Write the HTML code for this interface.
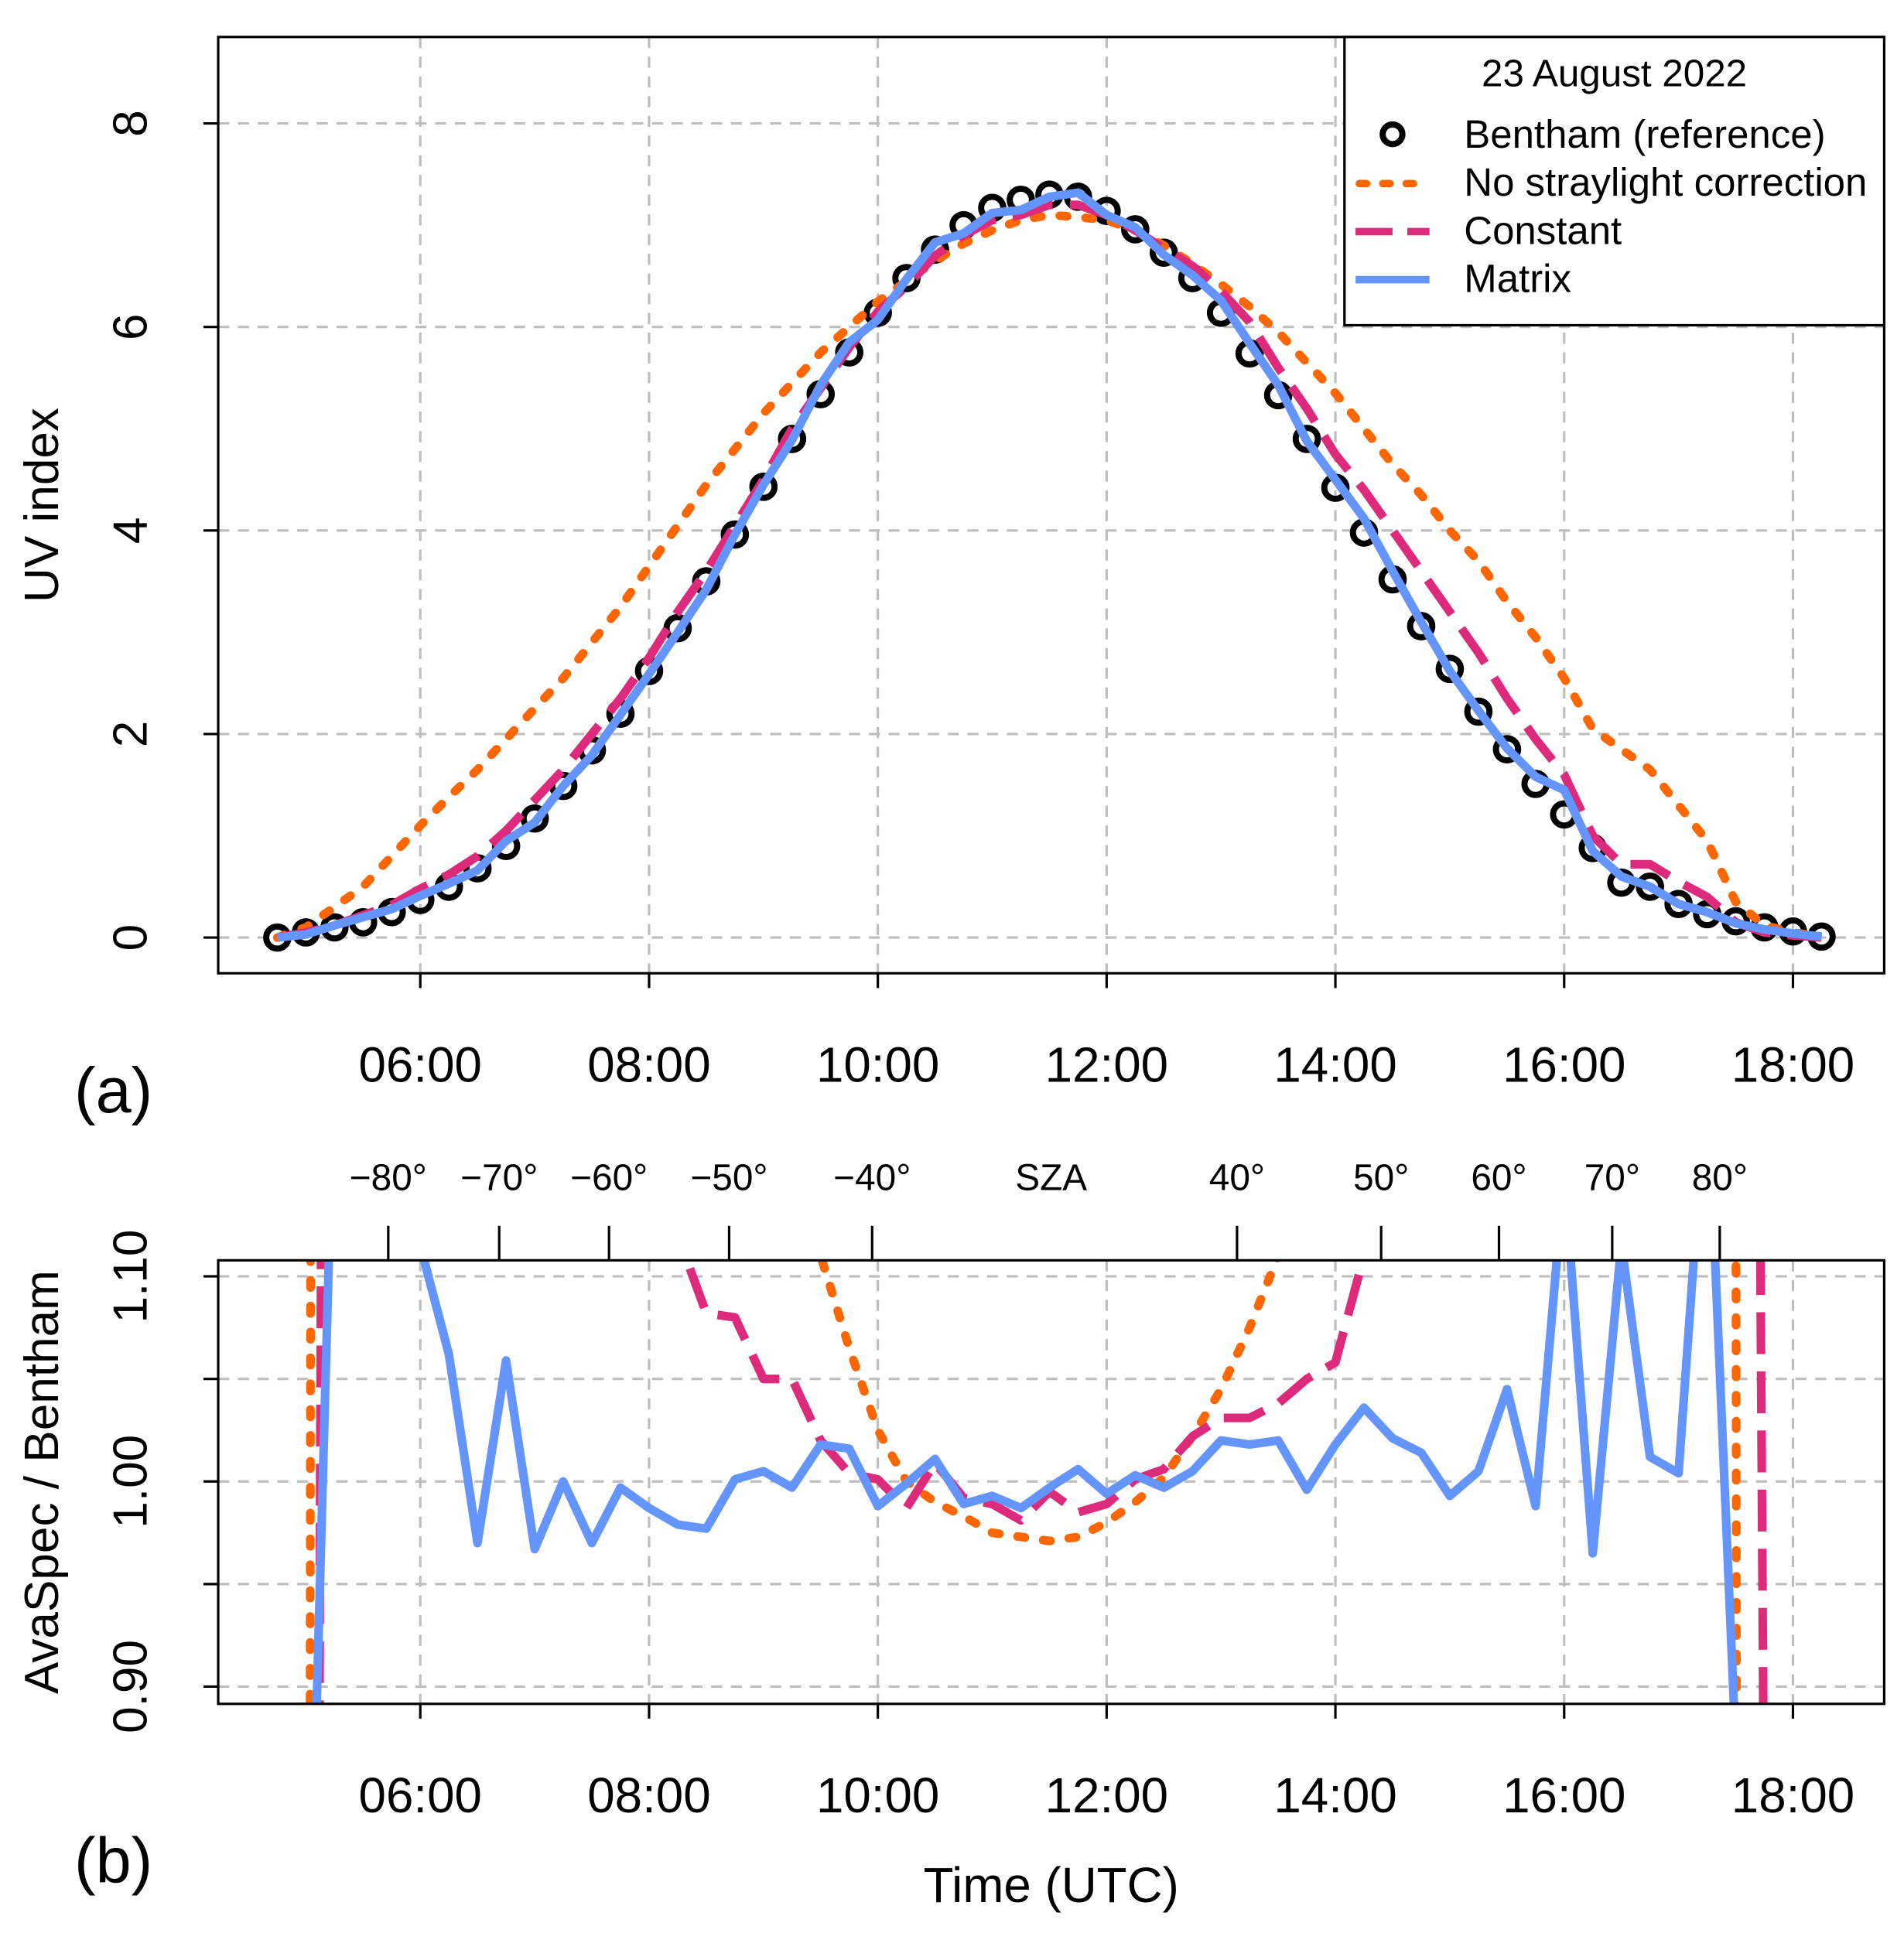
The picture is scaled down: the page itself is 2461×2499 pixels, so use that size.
<!DOCTYPE html>
<html><head><meta charset="utf-8"><style>
html,body{margin:0;padding:0;background:#fff;overflow:hidden;width:2461px;height:2499px}
svg{display:block}
text{font-family:"Liberation Sans",sans-serif;fill:#000}
</style></head><body>
<svg id="chart" width="2461" height="2499" viewBox="0 0 1545 1569" xmlns="http://www.w3.org/2000/svg">
<defs>
<clipPath id="clipA"><rect x="177" y="30" width="1352" height="760"/></clipPath>
<clipPath id="clipB"><rect x="177" y="1023" width="1352" height="360"/></clipPath>
</defs>
<g id="gridA"></g>
<g id="gridB"></g>
<g id="seriesA" clip-path="url(#clipA)"></g>
<g id="seriesB" clip-path="url(#clipB)"></g>
<rect x="177" y="30" width="1352" height="760" fill="none" stroke="#000" stroke-width="2"/>
<rect x="177" y="1023" width="1352" height="360" fill="none" stroke="#000" stroke-width="2"/>
<g id="axes"></g>
<text transform="translate(47,410) rotate(-90)" text-anchor="middle" font-size="39">UV index</text>
<text transform="translate(47,1203) rotate(-90)" text-anchor="middle" font-size="39">AvaSpec / Bentham</text>
<text x="92" y="903" text-anchor="middle" font-size="52">(a)</text>
<text x="92" y="1528" text-anchor="middle" font-size="52">(b)</text>
<text x="853" y="1544" text-anchor="middle" font-size="40">Time (UTC)</text>
<text x="853" y="966" text-anchor="middle" font-size="30">SZA</text>
<g>
<rect x="1091" y="30" width="438" height="234" fill="#fff" stroke="#000" stroke-width="2"/>
<text x="1310" y="70" text-anchor="middle" font-size="31">23 August 2022</text>
<circle cx="1130" cy="109" r="8" fill="none" stroke="#000" stroke-width="5"/>
<text x="1188" y="120" font-size="32">Bentham (reference)</text>
<line x1="1103" y1="149" x2="1160" y2="149" stroke="#ff6600" stroke-width="6" stroke-dasharray="6,13" stroke-linecap="round"/>
<text x="1188" y="159" font-size="32">No straylight correction</text>
<line x1="1100" y1="188" x2="1160" y2="188" stroke="#dd2a7b" stroke-width="6" stroke-dasharray="30,12"/>
<text x="1188" y="198" font-size="32">Constant</text>
<line x1="1100" y1="227" x2="1160" y2="227" stroke="#6495ff" stroke-width="6"/>
<text x="1188" y="237" font-size="32">Matrix</text>
</g>
</svg>
<script>
const times = [4.75,5,5.25,5.5,5.75,6,6.25,6.5,6.75,7,7.25,7.5,7.75,8,8.25,8.5,8.75,9,9.25,9.5,9.75,10,10.25,10.5,10.75,11,11.25,11.5,11.75,12,12.25,12.5,12.75,13,13.25,13.5,13.75,14,14.25,14.5,14.75,15,15.25,15.5,15.75,16,16.25,16.5,16.75,17,17.25,17.5,17.75,18,18.25];
const bentham = [0,0.05,0.1,0.15,0.25,0.37,0.5,0.68,0.9,1.17,1.49,1.84,2.2,2.62,3.04,3.5,3.96,4.43,4.9,5.34,5.75,6.14,6.48,6.76,7.0,7.17,7.25,7.3,7.28,7.14,6.96,6.73,6.48,6.14,5.74,5.33,4.9,4.42,3.98,3.52,3.06,2.64,2.22,1.85,1.51,1.21,0.88,0.54,0.5,0.33,0.23,0.16,0.1,0.06,0.01];
const noStray = [0,0.1,0.3,0.5,0.8,1.1,1.38,1.65,1.95,2.25,2.55,2.9,3.25,3.65,4.05,4.45,4.8,5.15,5.45,5.75,6.0,6.25,6.45,6.65,6.82,6.95,7.05,7.1,7.08,7.05,6.95,6.8,6.62,6.42,6.2,5.95,5.65,5.35,5.0,4.65,4.35,4.0,3.7,3.3,2.95,2.55,2.05,1.85,1.65,1.3,0.95,0.35,0.12,0.05,0.01];
const constant = [0,0.05,0.12,0.22,0.32,0.48,0.62,0.8,1.05,1.35,1.65,2.0,2.35,2.75,3.2,3.6,4.05,4.5,5.0,5.4,5.8,6.15,6.4,6.7,6.9,7.05,7.1,7.2,7.2,7.1,6.95,6.77,6.6,6.35,6.05,5.6,5.2,4.75,4.4,4.0,3.6,3.2,2.8,2.35,1.95,1.6,1.0,0.72,0.72,0.55,0.4,0.15,0.05,0.02,0];
const matrix = [0,0.03,0.12,0.2,0.28,0.41,0.53,0.66,0.95,1.13,1.49,1.79,2.19,2.59,3.0,3.42,3.96,4.45,4.89,5.43,5.85,6.07,6.47,6.83,6.92,7.12,7.15,7.28,7.32,7.1,6.98,6.71,6.51,6.26,5.84,5.43,4.88,4.5,4.12,3.6,3.1,2.62,2.23,1.86,1.58,1.45,0.85,0.6,0.5,0.33,0.25,0.14,0.08,0.04,0.01];
const ratioNoStray = [0.5,-1,12,1.4,1.4,1.4,1.4,1.4,1.4,1.4,1.4,1.4,1.4,1.4,1.4,1.4,1.3,1.25,1.18,1.11,1.065,1.025,1.0,0.99,0.983,0.975,0.973,0.971,0.973,0.98,0.99,1.002,1.022,1.045,1.075,1.11,1.3,1.4,1.4,1.4,1.4,1.4,1.4,1.4,1.4,1.4,1.4,1.4,1.4,1.4,1.3,1.2,-10,null,null];
const ratioConstant = [0.5,-1,3,1.4,1.4,1.4,1.4,1.4,1.4,1.4,1.4,1.4,1.4,1.3,1.12,1.082,1.08,1.05,1.05,1.02,1.004,1.001,0.987,1.009,0.992,0.989,0.981,0.995,0.985,0.989,1.001,1.006,1.022,1.031,1.031,1.038,1.05,1.058,1.11,1.3,1.4,1.4,1.4,1.4,1.4,1.4,1.4,1.4,1.4,1.4,1.4,3,0.8,null,null];
const ratioMatrix = [0.5,0.7,1.21,1.3,1.25,1.115,1.062,0.970,1.059,0.967,1.0,0.970,0.997,0.987,0.979,0.977,1.001,1.005,0.997,1.018,1.016,0.988,0.999,1.011,0.989,0.993,0.987,0.997,1.006,0.994,1.003,0.997,1.005,1.020,1.018,1.020,0.996,1.018,1.036,1.021,1.014,0.993,1.005,1.045,0.988,1.15,0.965,1.116,1.012,1.004,1.2,0.87,null,null,null];
const xTicks = [6,8,10,12,14,16,18];
const xTickLabels = ["06:00","08:00","10:00","12:00","14:00","16:00","18:00"];
const yTicksA = [0,2,4,6,8];
const yTicksB = [0.90,0.95,1.00,1.05,1.10];
const yTickLabelsB = ["0.90","","1.00","","1.10"];
const szaTimes = [5.72,6.69,7.65,8.70,9.95,13.14,14.40,15.43,16.42,17.36];
const szaLabels = ["\u221280\u00b0","\u221270\u00b0","\u221260\u00b0","\u221250\u00b0","\u221240\u00b0","40\u00b0","50\u00b0","60\u00b0","70\u00b0","80\u00b0"];

const NS='http://www.w3.org/2000/svg';
const X = h => 341 + (h-6)*92.83;
const YA = v => 761 - v*82.6;
const YB = v => 1036 + (1.10-v)*1665;
function mk(tag, attrs, parent){const e=document.createElementNS(NS,tag);for(const k in attrs)e.setAttribute(k,attrs[k]);parent.appendChild(e);return e;}
const gA=document.getElementById('gridA'),gB=document.getElementById('gridB'),sA=document.getElementById('seriesA'),sB=document.getElementById('seriesB'),ax=document.getElementById('axes');
const gs={stroke:'#bebebe','stroke-width':2,'stroke-dasharray':'9,7'};
xTicks.forEach((t,i)=>{
  let l=mk('line',Object.assign({x1:X(t),x2:X(t),y1:30,y2:790},gs),gA);
  
  
  l=mk('line',Object.assign({x1:X(t),x2:X(t),y1:1023,y2:1383},gs),gB);
  
  
  [[790,865],[1383,1458]].forEach(([y0,ty])=>{
    let tk=mk('line',{x1:X(t),x2:X(t),y1:y0,y2:y0+12,stroke:'#000','stroke-width':2},ax);
    
    
    let tx=mk('text',{x:X(t),y:ty+13,'text-anchor':'middle','font-size':40},ax);
    tx.textContent=xTickLabels[i];
    
    
  });
});
yTicksA.forEach(v=>{
  let l=mk('line',Object.assign({x1:177,x2:1529,y1:YA(v),y2:YA(v)},gs),gA);
  
  
  let tk=mk('line',{x1:165,x2:177,y1:YA(v),y2:YA(v),stroke:'#000','stroke-width':2},ax);
  
  
  let tx=mk('text',{transform:`translate(119,${YA(v)}) rotate(-90)`,'text-anchor':'middle','font-size':39},ax);
  tx.textContent=String(v);
  
  
});
yTicksB.forEach((v,i)=>{
  let l=mk('line',Object.assign({x1:177,x2:1529,y1:YB(v),y2:YB(v)},gs),gB);
  
  
  let tk=mk('line',{x1:165,x2:177,y1:YB(v),y2:YB(v),stroke:'#000','stroke-width':2},ax);
  
  
  if(yTickLabelsB[i]){
    let tx=mk('text',{transform:`translate(119,${YB(v)}) rotate(-90)`,'text-anchor':'middle','font-size':39},ax);
    tx.textContent=yTickLabelsB[i];
    
    
  }
});
szaTimes.forEach((t,i)=>{
  let tk=mk('line',{x1:X(t),x2:X(t),y1:995,y2:1023,stroke:'#000','stroke-width':2},ax);
  
  
  let tx=mk('text',{x:X(t),y:966,'text-anchor':'middle','font-size':30},ax);
  tx.textContent=szaLabels[i];
  
  
});
function path(vals,Y,style,parent,name){
  let d='',pen=false;
  vals.forEach((v,i)=>{ if(v===null){pen=false;return;} d+=(pen?'L':'M')+X(times[i]).toFixed(1)+','+Y(v).toFixed(1); pen=true; });
  const p=mk('path',Object.assign({d:d,fill:'none','stroke-linejoin':'round'},style),parent);
  
  
}
const stNo={stroke:'#ff6600','stroke-width':7,'stroke-dasharray':'6,15','stroke-linecap':'round'};
const stCo={stroke:'#dd2a7b','stroke-width':7,'stroke-dasharray':'34,14'};
const stMa={stroke:'#6495ff','stroke-width':7};
bentham.forEach((v,i)=>{
  const c=mk('circle',{cx:X(times[i]),cy:YA(v),r:9,fill:'none',stroke:'#000','stroke-width':5},sA);
  
  
});
path(noStray,YA,stNo,sA,'no-straylight-line');
path(constant,YA,stCo,sA,'constant-line');
path(matrix,YA,stMa,sA,'matrix-line');
path(ratioNoStray,YB,stNo,sB,'no-straylight-ratio-line');
path(ratioConstant,YB,stCo,sB,'constant-ratio-line');
path(ratioMatrix,YB,stMa,sB,'matrix-ratio-line');
</script>
</body></html>
